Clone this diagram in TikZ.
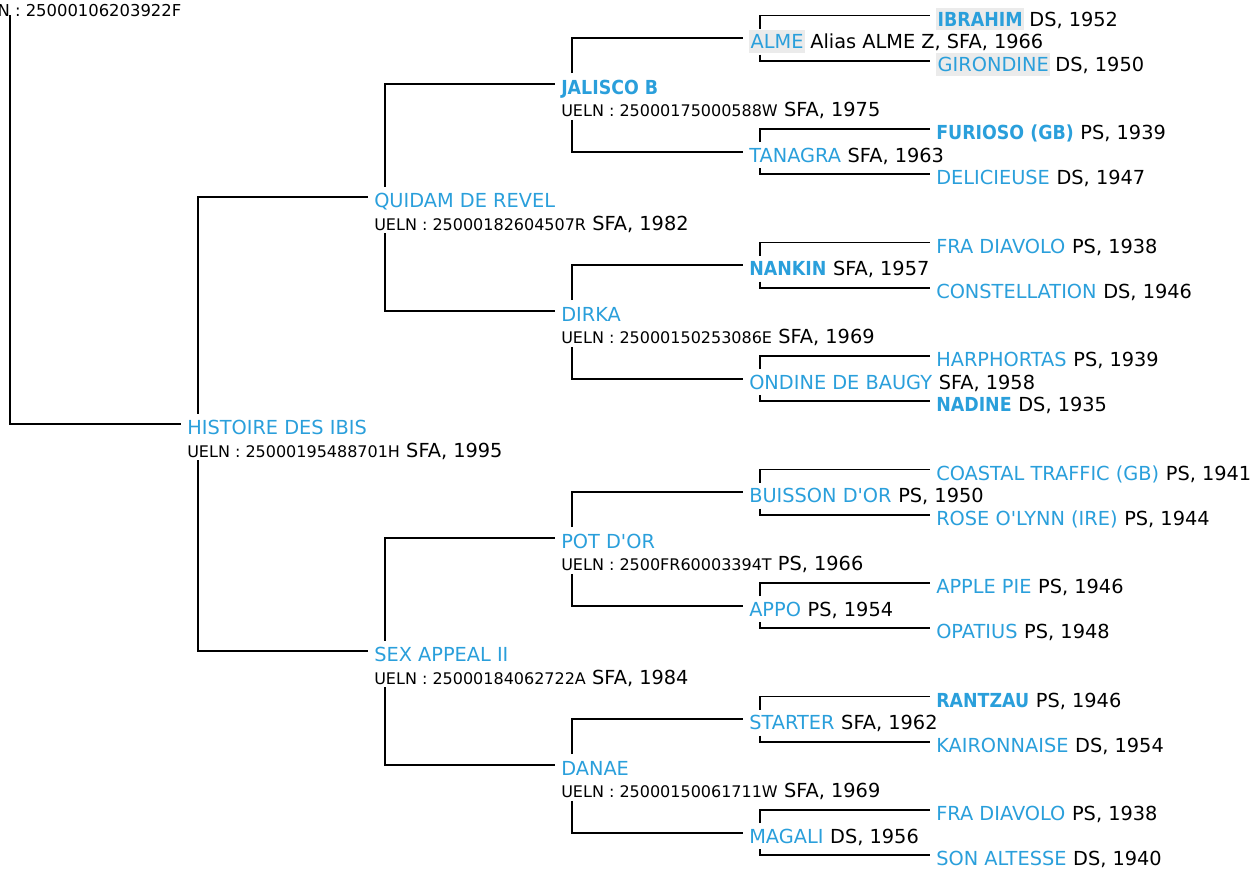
\documentclass[tikz,border=0pt]{standalone}
\usepackage{fontspec}
\setmainfont{DejaVu Sans}
\newfontfamily\boldish{DejaVu Sans Bold}[FakeStretch=0.9]
\usetikzlibrary{positioning,calc}
\definecolor{ibis}{HTML}{2A9FDB}
\definecolor{hlgray}{HTML}{EBEBEB}
\newcommand\nmfont{\fontsize{14.5pt}{17pt}\selectfont}
\newcommand\ulnfont{\fontsize{12pt}{14pt}\selectfont}
\tikzset{
  nm/.style={anchor=west, inner sep=0pt, text height=10.6pt, text depth=0pt, font=\nmfont, text=ibis},
  bnm/.style={nm, font=\boldish\nmfont},
  hl/.style={fill=hlgray, inner xsep=1.1pt, inner ysep=3.3pt},
  info/.style={inner sep=0pt, text height=10.6pt, text depth=0pt, font=\nmfont, node distance=4.6pt},
  uln/.style={info, anchor=west},
  link/.style={line width=1.45pt}
}
\begin{document}
\begin{tikzpicture}[x=0.75pt, y=-0.75pt]
\useasboundingbox (0,0) rectangle (1253,868);
\clip (0,0) rectangle (1253,868);

% root (cut off)
\node[uln] (root) at (-34.2,9) {\fontsize{12.3pt}{14pt}\selectfont UELN : 25000106203922F};

% gen 1
\node[nm] (histoire) at (187,427.6) {HISTOIRE DES IBIS};
\node[uln] (histoire-u) at (187,450.3) {{\ulnfont UELN : 25000195488701H} SFA, 1995};

% gen 2
\node[nm] (quidam) at (374,200.6) {QUIDAM DE REVEL};
\node[uln] (quidam-u) at (374,223.3) {{\ulnfont UELN : 25000182604507R} SFA, 1982};
\node[nm] (sexappeal) at (374,654.6) {SEX APPEAL II};
\node[uln] (sexappeal-u) at (374,677.3) {{\ulnfont UELN : 25000184062722A} SFA, 1984};

% gen 3
\node[bnm] (jalisco) at (561,87.1) {JALISCO B};
\node[uln] (jalisco-u) at (561,109.8) {{\ulnfont UELN : 25000175000588W} SFA, 1975};
\node[nm] (dirka) at (561,314.1) {DIRKA};
\node[uln] (dirka-u) at (561,336.8) {{\ulnfont UELN : 25000150253086E} SFA, 1969};
\node[nm] (potdor) at (561,541.1) {POT D\textquotesingle OR};
\node[uln] (potdor-u) at (561,563.8) {{\ulnfont UELN : 2500FR60003394T} PS, 1966};
\node[nm] (danae) at (561,768.1) {DANAE};
\node[uln] (danae-u) at (561,790.8) {{\ulnfont UELN : 25000150061711W} SFA, 1969};

% gen 4
\node[nm, hl] (alme) at (749,41.7) {ALME};
\node[info, right=3.5pt of alme] (alme-i) {Alias ALME Z, SFA, 1966};
\node[nm] (tanagra) at (749,155.2) {TANAGRA};
\node[info, right=of tanagra] (tanagra-i) {SFA, 1963};
\node[bnm] (nankin) at (749,268.7) {NANKIN};
\node[info, right=of nankin] (nankin-i) {SFA, 1957};
\node[nm] (ondine) at (749,382.2) {ONDINE DE BAUGY};
\node[info, right=of ondine] (ondine-i) {SFA, 1958};
\node[nm] (buisson) at (749,495.7) {BUISSON D\textquotesingle OR};
\node[info, right=of buisson] (buisson-i) {PS, 1950};
\node[nm] (appo) at (749,609.2) {APPO};
\node[info, right=of appo] (appo-i) {PS, 1954};
\node[nm] (starter) at (749,722.7) {STARTER};
\node[info, right=of starter] (starter-i) {SFA, 1962};
\node[nm] (magali) at (749,836.2) {MAGALI};
\node[info, right=of magali] (magali-i) {DS, 1956};

% gen 5
\node[bnm, hl] (ibrahim) at (936,19) {IBRAHIM};
\node[info, right=3.5pt of ibrahim] (ibrahim-i) {DS, 1952};
\node[nm, hl] (girondine) at (936,64.4) {GIRONDINE};
\node[info, right=3.5pt of girondine] (girondine-i) {DS, 1950};
\node[bnm] (furioso) at (936,132.5) {FURIOSO (GB)};
\node[info, right=of furioso] (furioso-i) {PS, 1939};
\node[nm] (delicieuse) at (936,177.9) {DELICIEUSE};
\node[info, right=of delicieuse] (delicieuse-i) {DS, 1947};
\node[nm] (diavolo) at (936,246) {FRA DIAVOLO};
\node[info, right=of diavolo] (diavolo-i) {PS, 1938};
\node[nm] (constellation) at (936,291.4) {CONSTELLATION};
\node[info, right=of constellation] (constellation-i) {DS, 1946};
\node[nm] (harphortas) at (936,359.5) {HARPHORTAS};
\node[info, right=of harphortas] (harphortas-i) {PS, 1939};
\node[bnm] (nadine) at (936,404.9) {NADINE};
\node[info, right=of nadine] (nadine-i) {DS, 1935};
\node[nm] (coastal) at (936,473) {COASTAL TRAFFIC (GB)};
\node[info, right=of coastal] (coastal-i) {PS, 1941};
\node[nm] (rose) at (936,518.4) {ROSE O\textquotesingle LYNN (IRE)};
\node[info, right=of rose] (rose-i) {PS, 1944};
\node[nm] (applepie) at (936,586.5) {APPLE PIE};
\node[info, right=of applepie] (applepie-i) {PS, 1946};
\node[nm] (opatius) at (936,631.9) {OPATIUS};
\node[info, right=of opatius] (opatius-i) {PS, 1948};
\node[bnm] (rantzau) at (936,700) {RANTZAU};
\node[info, right=of rantzau] (rantzau-i) {PS, 1946};
\node[nm] (kaironnaise) at (936,745.4) {KAIRONNAISE};
\node[info, right=of kaironnaise] (kaironnaise-i) {DS, 1954};
\node[nm] (diavolo2) at (936,813.5) {FRA DIAVOLO};
\node[info, right=of diavolo2] (diavolo2-i) {PS, 1938};
\node[nm] (altesse) at (936,858.9) {SON ALTESSE};
\node[info, right=of altesse] (altesse-i) {DS, 1940};

% brackets
\draw[link] ($(root.west)+(44.2,6)$) |- ($(histoire.west)+(-6,-3.5)$);
\draw[link] ($(histoire.west)+(11,-14)$) |- ($(quidam.west)+(-6,-3.5)$);
\draw[link] ($(histoire-u.west)+(11,10)$) |- ($(sexappeal.west)+(-6,-3.5)$);

\draw[link] ($(quidam.west)+(11,-14)$) |- ($(jalisco.west)+(-6,-3.5)$);
\draw[link] ($(quidam-u.west)+(11,10)$) |- ($(dirka.west)+(-6,-3.5)$);
\draw[link] ($(sexappeal.west)+(11,-14)$) |- ($(potdor.west)+(-6,-3.5)$);
\draw[link] ($(sexappeal-u.west)+(11,10)$) |- ($(danae.west)+(-6,-3.5)$);

\draw[link] ($(jalisco.west)+(11,-14)$) |- ($(alme.west)+(-6,-3.5)$);
\draw[link] ($(jalisco-u.west)+(11,10)$) |- ($(tanagra.west)+(-6,-3.5)$);
\draw[link] ($(dirka.west)+(11,-14)$) |- ($(nankin.west)+(-6,-3.5)$);
\draw[link] ($(dirka-u.west)+(11,10)$) |- ($(ondine.west)+(-6,-3.5)$);
\draw[link] ($(potdor.west)+(11,-14)$) |- ($(buisson.west)+(-6,-3.5)$);
\draw[link] ($(potdor-u.west)+(11,10)$) |- ($(appo.west)+(-6,-3.5)$);
\draw[link] ($(danae.west)+(11,-14)$) |- ($(starter.west)+(-6,-3.5)$);
\draw[link] ($(danae-u.west)+(11,10)$) |- ($(magali.west)+(-6,-3.5)$);

\draw[link] ($(alme.west)+(11,-13)$) |- ($(ibrahim.west)+(-6,-3.5)$);
\draw[link] ($(alme.west)+(11,13)$) |- ($(girondine.west)+(-6,-3.5)$);
\draw[link] ($(tanagra.west)+(11,-13)$) |- ($(furioso.west)+(-6,-3.5)$);
\draw[link] ($(tanagra.west)+(11,13)$) |- ($(delicieuse.west)+(-6,-3.5)$);
\draw[link] ($(nankin.west)+(11,-13)$) |- ($(diavolo.west)+(-6,-3.5)$);
\draw[link] ($(nankin.west)+(11,13)$) |- ($(constellation.west)+(-6,-3.5)$);
\draw[link] ($(ondine.west)+(11,-13)$) |- ($(harphortas.west)+(-6,-3.5)$);
\draw[link] ($(ondine.west)+(11,13)$) |- ($(nadine.west)+(-6,-3.5)$);
\draw[link] ($(buisson.west)+(11,-13)$) |- ($(coastal.west)+(-6,-3.5)$);
\draw[link] ($(buisson.west)+(11,13)$) |- ($(rose.west)+(-6,-3.5)$);
\draw[link] ($(appo.west)+(11,-13)$) |- ($(applepie.west)+(-6,-3.5)$);
\draw[link] ($(appo.west)+(11,13)$) |- ($(opatius.west)+(-6,-3.5)$);
\draw[link] ($(starter.west)+(11,-13)$) |- ($(rantzau.west)+(-6,-3.5)$);
\draw[link] ($(starter.west)+(11,13)$) |- ($(kaironnaise.west)+(-6,-3.5)$);
\draw[link] ($(magali.west)+(11,-13)$) |- ($(diavolo2.west)+(-6,-3.5)$);
\draw[link] ($(magali.west)+(11,13)$) |- ($(altesse.west)+(-6,-3.5)$);
\end{tikzpicture}
\end{document}
